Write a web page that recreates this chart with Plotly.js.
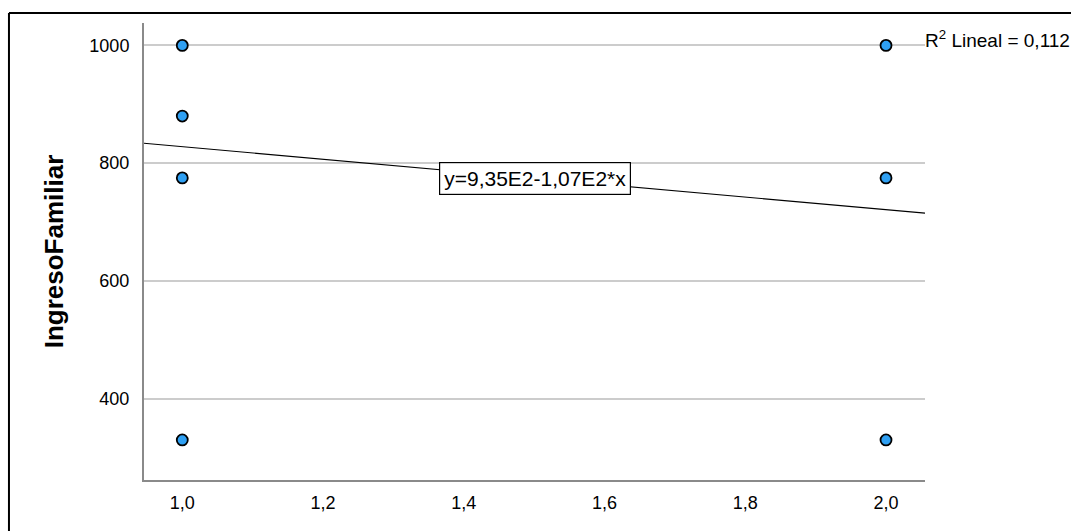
<!DOCTYPE html>
<html>
<head>
<meta charset="utf-8">
<script src="https://cdn.plot.ly/plotly-3.0.1.min.js"></script>
<style>html,body{margin:0;padding:0;background:#fff;}#chart{width:1071px;height:531px;}</style>
</head>
<body>
<div id="chart"></div>
<script>
// Data
const groupX = [1, 1, 1, 1, 2, 2, 2];
const ingresoFamiliar = [1000, 880, 775, 330, 1000, 775, 330];
const fitIntercept = 935;
const fitSlope = -107;
const rSquared = "0,112";
const xTickVals = [1.0, 1.2, 1.4, 1.6, 1.8, 2.0];
const xTickText = ["1,0", "1,2", "1,4", "1,6", "1,8", "2,0"];
const yTickVals = [400, 600, 800, 1000];
const yTickText = ["400", "600", "800", "1000"];

const xRange = [0.9456, 2.0554];
const yRange = [262, 1038];

const lineX = xRange.slice();
const lineY = lineX.map(x => fitIntercept + fitSlope * x);

const font = "Liberation Sans, Arial, sans-serif";

const traces = [
  {
    x: lineX, y: lineY, mode: "lines", type: "scatter",
    line: {color: "#000", width: 1.2}, hoverinfo: "skip", showlegend: false
  },
  {
    x: groupX, y: ingresoFamiliar, mode: "markers", type: "scatter",
    marker: {color: "#2fa0f3", size: 11, line: {color: "#000", width: 1.8}},
    showlegend: false
  }
];

const layout = {
  width: 1071, height: 531,
  margin: {l: 144, r: 146, t: 23, b: 51},
  paper_bgcolor: "#fff", plot_bgcolor: "#fff",
  font: {family: font, size: 18, color: "#000"},
  xaxis: {
    range: xRange, tickvals: xTickVals, ticktext: xTickText,
    showgrid: false, zeroline: false, showline: true, linecolor: "#8a8a8a", linewidth: 2,
    ticks: "outside", ticklen: 5, tickcolor: "rgba(0,0,0,0)",
    tickfont: {family: font, size: 18, color: "#000"}
  },
  yaxis: {
    range: yRange, tickvals: yTickVals, ticktext: yTickText,
    showgrid: true, gridcolor: "#cccccc", gridwidth: 1.8,
    zeroline: false, showline: true, linecolor: "#8a8a8a", linewidth: 2,
    ticks: "outside", ticklen: 9, tickcolor: "rgba(0,0,0,0)",
    tickfont: {family: font, size: 18, color: "#000"},
    title: {text: "<b>IngresoFamiliar</b>", font: {family: font, size: 26, color: "#000"}, standoff: 18}
  },
  annotations: [
    {
      x: 1.501, y: 774, xref: "x", yref: "y",
      text: "y=9,35E2-1,07E2*x", showarrow: false,
      font: {family: font, size: 21, color: "#000"},
      bgcolor: "#fff", bordercolor: "#000", borderwidth: 1.2, borderpad: 4
    },
    {
      x: xRange[1], y: 1000, xref: "x", yref: "y",
      xanchor: "left", yanchor: "bottom", yshift: -8, xshift: -2,
      text: "R<sup>2</sup> Lineal = " + rSquared, showarrow: false,
      font: {family: font, size: 19, color: "#000"}
    }
  ],
  shapes: [
    {type: "line", xref: "paper", yref: "paper", x0: -0.1729, x1: 1.2, y0: 1.0219, y1: 1.0219, line: {color: "#000", width: 2}},
    {type: "line", xref: "paper", yref: "paper", x0: -0.1729, x1: -0.1729, y0: 1.0219, y1: -0.15, line: {color: "#000", width: 2}}
  ]
};

Plotly.newPlot("chart", traces, layout, {displayModeBar: false, staticPlot: true});
</script>
</body>
</html>
